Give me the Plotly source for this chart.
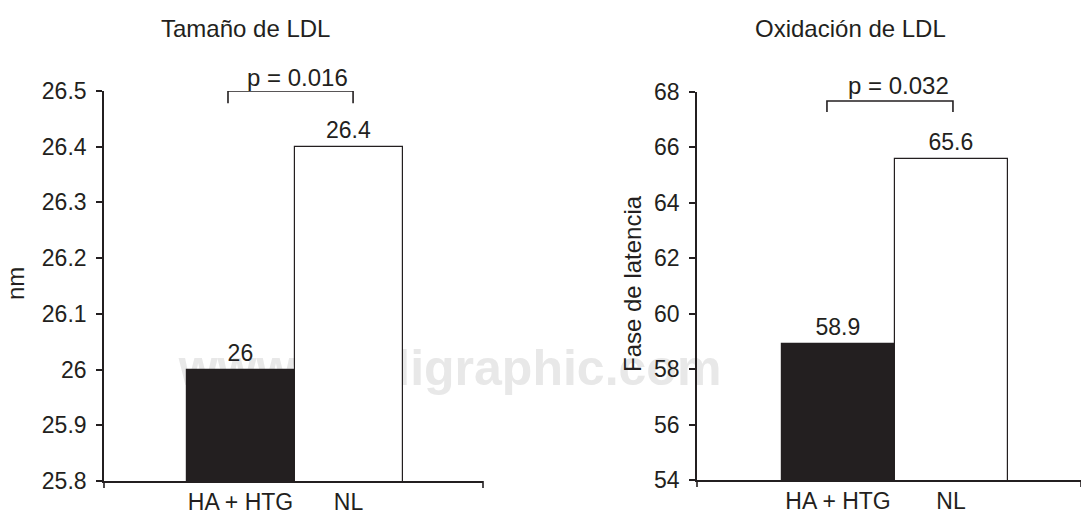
import plotly.graph_objects as go

# ---- data ----
categories = ["HA + HTG", "NL"]
size_values = [26.0, 26.4]
oxid_values = [58.9, 65.6]
size_ticks = [25.8, 25.9, 26.0, 26.1, 26.2, 26.3, 26.4, 26.5]
size_ticktext = ["25.8", "25.9", "26", "26.1", "26.2", "26.3", "26.4", "26.5"]
oxid_ticks = [54, 56, 58, 60, 62, 64, 66, 68]
oxid_ticktext = ["54", "56", "58", "60", "62", "64", "66", "68"]
panel_titles = ["Tamaño de LDL", "Oxidación de LDL"]
y_titles = ["nm", "Fase de latencia"]
p_values = ["p = 0.016", "p = 0.032"]
bar_colors = ["#231f20", "#ffffff"]
watermark = "www.medigraphic.com"

W, H = 1081, 513
INK = "#231f20"
FONT = "Liberation Sans, Arial, Helvetica, sans-serif"

def px_x(p):
    return p / W

def px_y(p):
    return 1 - p / H

xpos = list(range(len(categories)))

fig = go.Figure()
fig.add_trace(go.Bar(
    x=xpos, y=size_values, width=1,
    marker=dict(color=bar_colors, line=dict(color=INK, width=1.2)),
    texttemplate="%{y}", textposition="outside",
    outsidetextfont=dict(family=FONT, size=23, color=INK),
    xaxis="x", yaxis="y", showlegend=False, hoverinfo="skip",
))
fig.add_trace(go.Bar(
    x=xpos, y=oxid_values, width=1,
    marker=dict(color=bar_colors, line=dict(color=INK, width=1.2)),
    texttemplate="%{y}", textposition="outside",
    outsidetextfont=dict(family=FONT, size=23, color=INK),
    xaxis="x2", yaxis="y2", showlegend=False, hoverinfo="skip",
))

axis_common = dict(showgrid=False, zeroline=False, showline=True,
                   linecolor=INK, linewidth=1.6, automargin=False)
tickfont = dict(family=FONT, size=23, color=INK)
xtickfont = dict(family=FONT, size=23, color=INK)

fig.update_layout(
    template="none",
    width=W, height=H, autosize=False,
    margin=dict(l=0, r=0, t=0, b=0, pad=0),
    paper_bgcolor="white", plot_bgcolor="rgba(0,0,0,0)",
    bargap=0,
    xaxis=dict(domain=[px_x(104), px_x(483)], range=[-1.264, 2.245],
               tickvals=xpos, ticktext=categories, ticks="",
               tickfont=xtickfont, anchor="y", **axis_common),
    yaxis=dict(domain=[px_y(481), px_y(91)], range=[25.8, 26.5],
               tickvals=size_ticks, ticktext=size_ticktext,
               ticks="outside", ticklen=6, tickwidth=1.6, tickcolor=INK,
               ticklabelstandoff=5,
               tickfont=tickfont, anchor="x", **axis_common),
    xaxis2=dict(domain=[px_x(697), 1.0], range=[-1.248, 2.15],
                tickvals=xpos, ticktext=categories, ticks="",
                tickfont=xtickfont, anchor="y2", **axis_common),
    yaxis2=dict(domain=[px_y(480), px_y(92)], range=[54, 68],
                tickvals=oxid_ticks, ticktext=oxid_ticktext,
                ticks="outside", ticklen=6, tickwidth=1.6, tickcolor=INK,
                ticklabelstandoff=5,
                tickfont=tickfont, anchor="x2", **axis_common),
)

# watermark below everything
fig.add_shape(type="rect", xref="paper", yref="paper",
              x0=px_x(180), x1=px_x(720), y0=px_y(400), y1=px_y(326),
              line=dict(width=0), fillcolor="rgba(0,0,0,0)", layer="below",
              label=dict(text="<b>" + watermark + "</b>", textposition="middle center",
                         font=dict(family="Liberation Sans, Arial, sans-serif",
                                   size=50, color="#e8e8e8")))

# significance brackets
brackets = [
    dict(xr="x", yr="y", x0=-0.116, x1=1.042, ytop=26.5, ybot=26.478, tx=0.523, ty_px=77),
    dict(xr="x2", yr="y2", x0=-0.098, x1=1.017, ytop=67.675, ybot=67.28, tx=0.531, ty_px=85),
]
for b, p in zip(brackets, p_values):
    fig.add_shape(type="path", xref=b["xr"], yref=b["yr"],
                  path=f"M {b['x0']},{b['ybot']} L {b['x0']},{b['ytop']} L {b['x1']},{b['ytop']} L {b['x1']},{b['ybot']}",
                  line=dict(color=INK, width=1.6))
    fig.add_annotation(x=b["tx"], y=px_y(b["ty_px"]), xref=b["xr"], yref="paper", text=p,
                       showarrow=False, font=dict(family=FONT, size=24, color=INK),
                       xanchor="center", yanchor="middle")

# end ticks on x axes
for xr, yr in [("x domain", "y domain"), ("x2 domain", "y2 domain")]:
    for xd in [0, 1]:
        fig.add_shape(type="line", xref=xr, yref=yr, x0=xd, x1=xd, y0=0, y1=-0.018,
                      line=dict(color=INK, width=1.6))

# panel titles
for t, xc in zip(panel_titles, [245, 850]):
    fig.add_annotation(x=px_x(xc), y=px_y(28), xref="paper", yref="paper", text=t,
                       showarrow=False, font=dict(family=FONT, size=24, color=INK),
                       xanchor="center", yanchor="middle")

# y axis titles
for t, xc in zip(y_titles, [15, 632]):
    fig.add_annotation(x=px_x(xc), y=px_y(283), xref="paper", yref="paper", text=t,
                       showarrow=False, textangle=-90,
                       font=dict(family=FONT, size=24, color=INK),
                       xanchor="center", yanchor="middle")

fig.write_html("out.html", config={"displayModeBar": False},
               post_script="document.body.style.margin='0';")
